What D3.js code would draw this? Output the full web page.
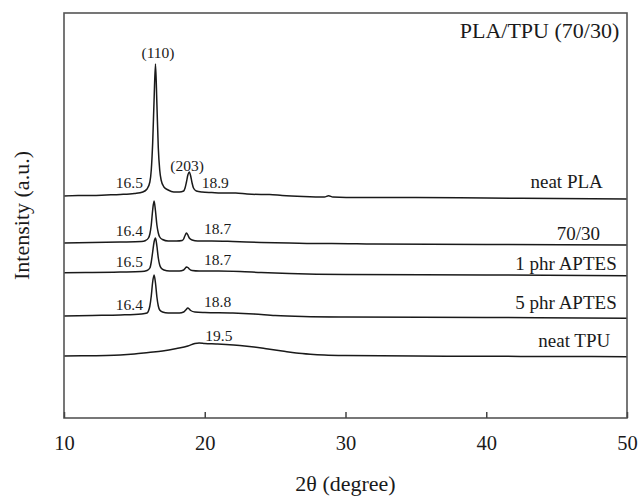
<!DOCTYPE html>
<html>
<head>
<meta charset="utf-8">
<script src="https://cdn.jsdelivr.net/npm/d3@7"></script>
<style>
  body { margin: 0; background: #fff; }
  svg text { font-family: "Liberation Serif", "Times New Roman", serif; fill: #1a1a1a; }
</style>
</head>
<body>
<svg id="chart" width="640" height="496"></svg>
<script>
// 2theta (degree) vs intensity (a.u., curves already offset as in the stacked plot)
const neatPLA = [[10,222],[11,222.5],[12,222.5],[13,223],[14,223.5],[15,224.5],[15.6,226],[15.9,229],
    [16.1,236],[16.2,248],[16.3,275],[16.4,318],[16.5,354],[16.6,314],[16.7,270],[16.8,248],[16.9,238],
    [17.1,231],[17.4,228],[17.8,226],[18.2,226],[18.5,227],[18.6,230],[18.7,236],[18.8,243],[18.9,246],
    [19.0,242],[19.1,235],[19.2,230],[19.4,227],[19.8,226],[20.5,225.5],[21.5,225],[22.2,225],[23,224],
    [24,223.5],[24.6,223.5],[25.5,222.5],[27,221.5],[28.5,221],[28.8,222.3],[29.1,221],[31,220.5],[35,220.5],
    [40,220],[45,219.5],[50,219]];
const blend7030 = [[10,175],[12,175.5],[14,176],[15.5,176.5],[15.8,177.5],[16.0,180],[16.1,184],[16.2,193],
    [16.3,208],[16.4,217],[16.5,207],[16.6,193],[16.7,185],[16.8,181],[17.0,178.5],[17.4,177],[18.0,177],
    [18.4,177.5],[18.5,179],[18.6,182.5],[18.7,185],[18.8,183],[18.9,180],[19.1,178],[19.5,177],[20.5,177],
    [22,176.5],[24,175.5],[26,175],[28.5,174.5],[29,174.5],[32,174],[40,173.5],[50,173]];
const aptes1 = [[10,145.3],[12,145.5],[14,146],[15.5,146.5],[15.9,147.5],[16.1,150],[16.2,156],[16.3,166],
    [16.4,176],[16.5,180],[16.6,172],[16.7,160],[16.8,153],[16.9,150],[17.1,148],[17.5,147],[18.2,147],
    [18.5,148],[18.6,149.5],[18.7,151],[18.8,150.5],[18.9,149],[19.1,147.5],[19.6,147],[21,147],[22.5,146.5],
    [24,145.5],[26,144.5],[30,143.5],[40,143],[50,142.3]];
const aptes5 = [[10,102],[12,102.5],[14,103],[15.5,104],[15.9,105],[16.0,107],[16.1,112],[16.2,122],[16.3,136],
    [16.4,143],[16.5,135],[16.6,121],[16.7,112],[16.8,108],[17.0,106],[17.4,105],[18.2,105],[18.5,106],
    [18.65,108],[18.8,110],[18.9,109],[19.0,107.5],[19.3,106],[20,105.5],[22,105],[23.5,104],[25,102.5],
    [27,101.5],[30,101],[40,100.5],[50,99.7]];
const neatTPU = [[10,62],[12,62.3],[13,62.5],[14,63],[15,64],[16,65.5],[17,67],[18,69.5],[18.8,72],[19.3,74.5],
    [19.6,75],[20,74.5],[20.8,74],[21.5,73.5],[22.5,72.5],[23.5,71],[24.5,69],[25.5,67],[26.5,65],[27.5,63.8],
    [28.5,63],[30,62.5],[35,62],[40,61.7],[45,61.5],[50,61.3]];

const seriesData = [neatPLA, blend7030, aptes1, aptes5, neatTPU];
const seriesNames = ["neat PLA", "70/30", "1 phr APTES", "5 phr APTES", "neat TPU"];
// where each series name sits, in data units (2theta, intensity)
const seriesLabelAt = [[48.28,237],[48.09,185],[49.27,155],[49.27,116],[48.81,78]];

const peakTexts = ["(110)", "(203)", "16.5", "18.9", "16.4", "18.7", "16.5", "18.7", "16.4", "18.8", "19.5"];
const peakTextAt = [[16.68,365],[18.74,252],[15.61,235],[19.78,235],[15.61,187],[19.95,189],
    [15.61,156],[19.95,158],[15.61,113],[19.95,116],[21.0,82.5]];
const peakTextAnchor = ["middle","middle","end","start","end","start","end","start","end","start","middle"];

const xTicks = [10, 20, 30, 40, 50];

const margin = {top: 13, left: 64, right: 13, bottom: 78},
    width = 640 - margin.left - margin.right,
    height = 496 - margin.top - margin.bottom;

const svg = d3.select("#chart");

const xScale = d3.scaleLinear().domain([10, 50]).range([margin.left, margin.left + width]),
    yScale = d3.scaleLinear().domain([0, height]).range([margin.top + height, margin.top]);

const line = d3.line()
    .x(function(d) { return xScale(d[0]); })
    .y(function(d) { return yScale(d[1]); })
    .curve(d3.curveMonotoneX);

svg.selectAll(".trace")
    .data(seriesData)
    .enter().append("path")
    .attr("class", "trace")
    .attr("d", line)
    .attr("fill", "none")
    .attr("stroke", "#1a1a1a")
    .attr("stroke-width", 1.5)
    .attr("stroke-linejoin", "round");

// frame
svg.append("rect")
    .attr("x", margin.left)
    .attr("y", margin.top)
    .attr("width", width)
    .attr("height", height)
    .attr("fill", "none")
    .attr("stroke", "#555")
    .attr("stroke-width", 1.6);

const xAxis = svg.append("g")
    .attr("transform", "translate(0," + (margin.top + height) + ")")
    .call(d3.axisBottom(xScale).tickValues(xTicks).tickSize(-6).tickPadding(17).tickFormat(d3.format("d")));
xAxis.select(".domain").remove();
xAxis.selectAll(".tick line").attr("stroke", "#444").attr("stroke-width", 1.5);
xAxis.selectAll(".tick text")
    .attr("font-family", "Liberation Serif, serif")
    .attr("font-size", 20.5)
    .attr("fill", "#1a1a1a");

svg.selectAll(".series-label")
    .data(seriesNames)
    .enter().append("text")
    .attr("class", "series-label")
    .attr("x", function(d, i) { return xScale(seriesLabelAt[i][0]); })
    .attr("y", function(d, i) { return yScale(seriesLabelAt[i][1]); })
    .attr("dy", "0.35em")
    .attr("text-anchor", "end")
    .attr("font-size", 19)
    .text(function(d) { return d; });

svg.selectAll(".peak-label")
    .data(peakTexts)
    .enter().append("text")
    .attr("class", "peak-label")
    .attr("x", function(d, i) { return xScale(peakTextAt[i][0]); })
    .attr("y", function(d, i) { return yScale(peakTextAt[i][1]); })
    .attr("dy", "0.35em")
    .attr("text-anchor", function(d, i) { return peakTextAnchor[i]; })
    .attr("font-size", 15.5)
    .text(function(d) { return d; });

svg.append("text")
    .attr("x", xScale(49.45))
    .attr("y", yScale(388))
    .attr("dy", "0.35em")
    .attr("text-anchor", "end")
    .attr("font-size", 22)
    .text("PLA/TPU (70/30)");

svg.append("text")
    .attr("transform", "translate(29," + (margin.top + height / 2) + ") rotate(-90)")
    .attr("text-anchor", "middle")
    .attr("font-size", 22)
    .text("Intensity (a.u.)");

svg.append("text")
    .attr("x", xScale(30))
    .attr("y", 491)
    .attr("text-anchor", "middle")
    .attr("font-size", 22)
    .text("2θ (degree)");
</script>
</body>
</html>
